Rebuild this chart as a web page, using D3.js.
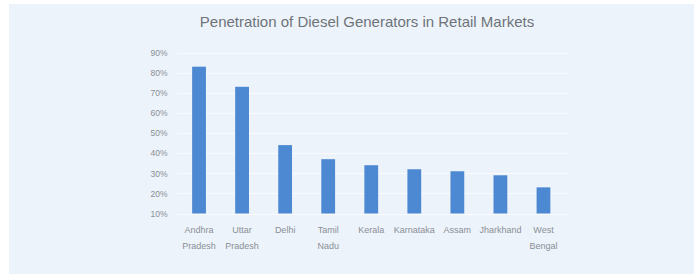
<!DOCTYPE html>
<html>
<head>
<meta charset="utf-8">
<script src="https://cdn.jsdelivr.net/npm/d3@7"></script>
<style>
  html, body { margin: 0; padding: 0; background: #ffffff; }
  svg { display: block; }
</style>
</head>
<body>
<svg id="chart" width="696" height="277"></svg>
<script>
const categories = [
  ["Andhra", "Pradesh"], ["Uttar", "Pradesh"], ["Delhi"], ["Tamil", "Nadu"],
  ["Kerala"], ["Karnataka"], ["Assam"], ["Jharkhand"], ["West", "Bengal"]
];
const values = [0.83, 0.73, 0.44, 0.37, 0.34, 0.32, 0.31, 0.29, 0.23];
const yTicks = [0.1, 0.2, 0.3, 0.4, 0.5, 0.6, 0.7, 0.8, 0.9];
const title = "Penetration of Diesel Generators in Retail Markets";

const svg = d3.select("#chart");
const W = 696, H = 277;
const font = "'Liberation Sans', Arial, sans-serif";

// panel background
svg.append("rect").attr("x", 9).attr("y", 4).attr("width", W - 11).attr("height", H - 7)
  .attr("fill", "#edf3fa");

const plot = { left: 177.5, right: 565, top: 52.6, bottom: 213.5 };
const keys = categories.map(c => c.join(" "));

const x = d3.scaleBand().domain(keys).range([plot.left, plot.right])
  .paddingInner(0.68).paddingOuter(0.34);
const y = d3.scaleLinear().domain([0.1, 0.9]).range([plot.bottom, plot.top]);

// gridlines
svg.append("g").selectAll("line").data(yTicks).join("line")
  .attr("x1", plot.left).attr("x2", plot.right + 3)
  .attr("y1", d => Math.round(y(d)) + 0.5).attr("y2", d => Math.round(y(d)) + 0.5)
  .attr("stroke", "#f9fbfe").attr("stroke-width", 1);

// y axis labels
const yAxis = d3.axisLeft(y).tickValues(yTicks).tickFormat(d3.format(".0%")).tickSize(0).tickPadding(0);
const gy = svg.append("g").attr("transform", `translate(${plot.left - 10},0)`).call(yAxis);
gy.select(".domain").remove();
gy.selectAll("text").attr("fill", "#8a8f96").style("font-family", font).style("font-size", "8.5px");

// bars
svg.append("g").selectAll("rect").data(values).join("rect")
  .attr("x", (d, i) => x(keys[i]))
  .attr("width", x.bandwidth())
  .attr("y", d => y(d))
  .attr("height", d => y(0.1) - y(d))
  .attr("fill", "#4d88d2");

// x labels
const gx = svg.append("g");
categories.forEach((lines, i) => {
  const cx = x(keys[i]) + x.bandwidth() / 2;
  const t = gx.append("text")
    .attr("x", cx)
    .attr("y", 233)
    .attr("text-anchor", "middle")
    .attr("fill", "#8a8f96")
    .style("font-family", font).style("font-size", "9px");
  lines.forEach((l, j) => {
    t.append("tspan").attr("x", cx).attr("dy", j === 0 ? 0 : 16).text(l);
  });
});

// title
svg.append("text")
  .attr("x", 367).attr("y", 27)
  .attr("text-anchor", "middle")
  .attr("fill", "#6e737a")
  .style("font-family", font).style("font-size", "15px")
  .text(title);
</script>
</body>
</html>
